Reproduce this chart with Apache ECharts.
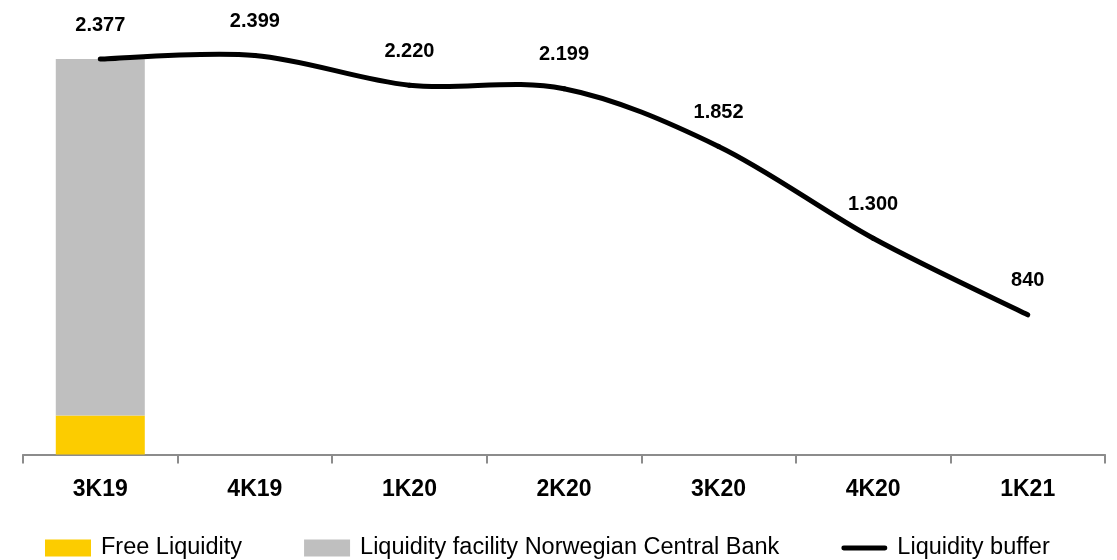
<!DOCTYPE html>
<html>
<head>
<meta charset="utf-8">
<script src="https://cdn.jsdelivr.net/npm/echarts@6/dist/echarts.min.js"></script>
<style>
  html, body { margin: 0; padding: 0; background: #fff; }
  #chart { width: 1117px; height: 560px; }
</style>
</head>
<body>
<div id="chart"></div>
<script>
// Quarters shown on the category axis
const quarters = ['3K19', '4K19', '1K20', '2K20', '3K20', '4K20', '1K21'];
// Composition of the buffer (only the first quarter is split)
const freeLiquidity = [235, null, null, null, null, null, null];
const centralBankFacility = [2142, null, null, null, null, null, null];
// Total liquidity buffer per quarter
const liquidityBuffer = [2377, 2399, 2220, 2199, 1852, 1300, 840];

const FONT = "'Liberation Sans', Arial, sans-serif";

// Thousands separator with a dot, e.g. 2377 -> 2.377
function fmt(v) {
  return String(v).replace(/\B(?=(\d{3})+(?!\d))/g, '.');
}

// Buffer line: cardinal (Catmull-Rom) spline through the points, plus value labels
function renderBuffer(params, api) {
  const n = liquidityBuffer.length;
  const i = params.dataIndex;
  const at = k => {
    const j = Math.max(0, Math.min(n - 1, k));
    return api.coord([j, liquidityBuffer[j]]);
  };
  const p1 = at(i);
  const children = [];
  if (i < n - 1) {
    const p0 = at(i - 1), p2 = at(i + 1), p3 = at(i + 2);
    children.push({
      type: 'bezierCurve',
      shape: {
        x1: p1[0], y1: p1[1],
        cpx1: p1[0] + (p2[0] - p0[0]) / 6, cpy1: p1[1] + (p2[1] - p0[1]) / 6,
        cpx2: p2[0] - (p3[0] - p1[0]) / 6, cpy2: p2[1] - (p3[1] - p1[1]) / 6,
        x2: p2[0], y2: p2[1]
      },
      style: { stroke: '#000', fill: null, lineWidth: 5, lineCap: 'round' }
    });
  }
  children.push({
    type: 'text',
    x: p1[0], y: p1[1] - 34,
    style: {
      text: fmt(liquidityBuffer[i]),
      fill: '#000',
      fontFamily: FONT, fontWeight: 'bold', fontSize: 20,
      align: 'center', verticalAlign: 'middle'
    }
  });
  return { type: 'group', children };
}

const chart = echarts.init(document.getElementById('chart'));
chart.setOption({
  animation: false,
  grid: { left: 23, right: 12, top: 22, bottom: 105.5 },
  legend: {
    left: 40,
    top: 531,
    itemWidth: 46,
    itemHeight: 17,
    itemGap: 62,
    textStyle: { fontFamily: FONT, fontSize: 23.5, color: '#000', padding: [0, 0, 0, 5] },
    data: [
      { name: 'Free Liquidity', icon: 'rect' },
      { name: 'Liquidity facility Norwegian Central Bank', icon: 'rect' },
      {
        name: 'Liquidity buffer',
        icon: 'path://M2.5,0 H45.5 A2.5,2.5 0 0 1 45.5,5 H2.5 A2.5,2.5 0 0 1 2.5,0 Z',
        itemStyle: { color: '#000' }
      }
    ]
  },
  xAxis: {
    type: 'category',
    data: quarters,
    boundaryGap: true,
    axisLine: { show: true, lineStyle: { color: '#8c8c8c', width: 2 } },
    axisTick: { show: true, length: 9, alignWithLabel: false, lineStyle: { color: '#8c8c8c', width: 2 } },
    axisLabel: {
      color: '#000', fontFamily: FONT, fontWeight: 'bold', fontSize: 23, margin: 24
    }
  },
  yAxis: {
    type: 'value', min: 0, max: 2600,
    show: false,
    splitLine: { show: false }
  },
  series: [
    {
      name: 'Free Liquidity', type: 'bar', stack: 'buf', barWidth: 89,
      itemStyle: { color: '#fccc00' },
      data: freeLiquidity
    },
    {
      name: 'Liquidity facility Norwegian Central Bank', type: 'bar', stack: 'buf', barWidth: 89,
      itemStyle: { color: '#bfbfbf' },
      data: centralBankFacility
    },
    {
      name: 'Liquidity buffer', type: 'custom',
      renderItem: renderBuffer,
      itemStyle: { color: '#000' },
      data: liquidityBuffer.map((v, i) => [i, v]),
      clip: false,
      z: 5
    }
  ]
});
</script>
</body>
</html>
